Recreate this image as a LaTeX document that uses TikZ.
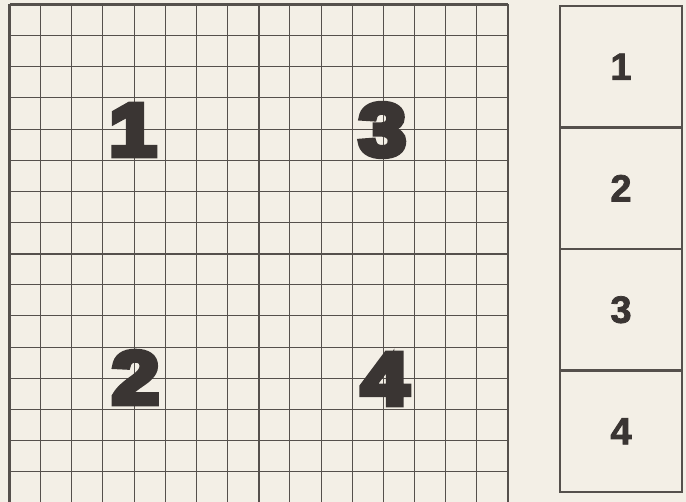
\documentclass[tikz,border=0pt]{standalone}
\usepackage{fontspec}
\setmainfont{Liberation Sans}
\newfontfamily\heavyfont[BoldFeatures={FakeBold=8}]{Liberation Sans}
\newfontfamily\keyfont[BoldFeatures={FakeBold=2}]{Liberation Sans}
\usetikzlibrary{positioning}

\definecolor{paper}{HTML}{F3EFE6}
\definecolor{ink}{HTML}{55504C}
\definecolor{digitink}{HTML}{3A3533}

\tikzset{
  thinline/.style={ink, line width=0.5pt},
  thickline/.style={ink, line width=1.1pt},
  bigdigit/.style={digitink, font=\heavyfont\bfseries\fontsize{37}{37}\selectfont, inner sep=0pt},
  keybox/.style={draw=ink, line width=1.1pt, minimum width=61pt, minimum height=60.75pt,
    inner sep=0pt, outer sep=0pt, text=digitink, font=\keyfont\bfseries\fontsize{19}{19}\selectfont},
}
\newcommand{\widedigit}[1]{\scalebox{1.14}[1]{#1}}

\begin{document}
\begin{tikzpicture}[x=0.5pt,y=0.5pt]

    % Paper
    \fill[paper] (0,0) rectangle (686,502);
    \useasboundingbox (0,0) rectangle (686,502);
    \clip (0,0) rectangle (686,502);

    % Grid: 16 x 16 cells, top left corner at (9.5,497.5)
    \def\cell{31.15}
    \def\gx{9.5}
    \def\gy{497.5}
    \foreach \i in {0,...,16} {
        \draw[thinline] ({\gx+\i*\cell},\gy) -- ({\gx+\i*\cell},{\gy-16*\cell});
        \draw[thinline] (\gx,{\gy-\i*\cell}) -- ({\gx+16*\cell},{\gy-\i*\cell});
    }
    \foreach \i in {0,8,16} {
        \draw[thickline] ({\gx+\i*\cell},\gy) -- ({\gx+\i*\cell},{\gy-16*\cell});
        \draw[thickline] (\gx,{\gy-\i*\cell}) -- ({\gx+16*\cell},{\gy-\i*\cell});
    }

    % Big numbers
    \node[bigdigit] (d1) at (133,372) {\widedigit{1}};
    \node[bigdigit] (d3) at (382.5,372) {\widedigit{3}};
    \node[bigdigit] (d2) at (135.5,124.5) {\widedigit{2}};
    \node[bigdigit] (d4) at (385,123) {\widedigit{4}};

    % Key column
    \node[keybox] (box1) at (621,435.25) {1};
    \node[keybox, below=0pt of box1] (box2) {2};
    \node[keybox, below=0pt of box2] (box3) {3};
    \node[keybox, below=0pt of box3] (box4) {4};

\end{tikzpicture}
\end{document}
